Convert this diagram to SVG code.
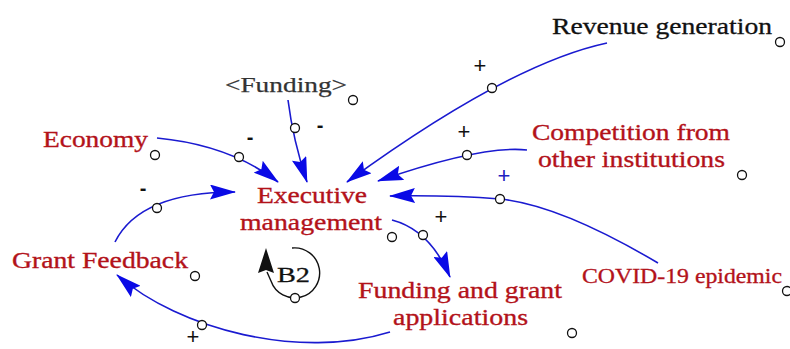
<svg xmlns="http://www.w3.org/2000/svg" width="790" height="349" viewBox="0 0 790 349">
<defs>
<style>
.t{font-family:"Liberation Serif","Times New Roman",serif;}
.red{fill:#b3121a;stroke:#b3121a;stroke-width:0.35;font-size:24px;}
.blk{fill:#111;stroke:#111;stroke-width:0.3;font-size:24px;}
.gray{fill:#333;stroke:#333;stroke-width:0.25;font-size:22px;}
.cv{fill:#b3121a;stroke:#b3121a;stroke-width:0.3;font-size:20px;}
.sg{font-family:"Liberation Sans",Arial,sans-serif;font-size:22px;fill:#111;text-anchor:middle;}
.mn{font-family:"Liberation Sans",Arial,sans-serif;font-size:20px;font-weight:bold;fill:#111;text-anchor:middle;}
.link{fill:none;stroke:#1a1ad0;stroke-width:1.6;marker-end:url(#ah);}
.dot{fill:#fff;stroke:#111;stroke-width:1.3;}
</style>
<marker id="ah" viewBox="0 0 26 15" refX="25" refY="7.5" markerWidth="26" markerHeight="15" markerUnits="userSpaceOnUse" orient="auto">
<path d="M0,0 L26,7.5 L0,15 L4,7.5 z" fill="#0a0ae6"/>
</marker>
</defs>
<rect width="790" height="349" fill="#fff"/>

<g id="connectors">
<path class="link" d="M607,43 Q509,64 347,182"/>
<circle class="dot" cx="492" cy="88" r="4.5"/>
<path class="link" d="M527,150 Q482,145 378,181"/>
<circle class="dot" cx="467" cy="155" r="4.5"/>
<path class="link" d="M658,263 Q560,205 500,199 Q450,195 390,196"/>
<circle class="dot" cx="500" cy="199" r="4.5"/>
<path class="link" d="M288,100 Q293,140 307,182"/>
<circle class="dot" cx="295" cy="128" r="4.5"/>
<path class="link" d="M157,138 Q230,145 278,182"/>
<circle class="dot" cx="239" cy="157" r="4.5"/>
<path class="link" d="M115,242 Q140,192 235,192"/>
<circle class="dot" cx="157" cy="208" r="4.5"/>
<path class="link" d="M392,220 Q430,230 450,277"/>
<circle class="dot" cx="423" cy="235" r="4.5"/>
<path class="link" d="M390,332 C300,360 180,330 117,275"/>
<circle class="dot" cx="202" cy="325" r="4.5"/>
<text class="sg" x="480" y="73">+</text>
<text class="sg" x="464" y="139">+</text>
<text class="sg" x="504" y="183" style="fill:#2020c0">+</text>
<text class="sg" x="441" y="224">+</text>
<text class="sg" x="193" y="344">+</text>
<text class="mn" x="320" y="132">-</text>
<text class="mn" x="250" y="144">-</text>
<text class="mn" x="143" y="195">-</text>
</g>

<g id="revenue-generation">
<text class="t blk" x="552" y="34" textLength="220" lengthAdjust="spacingAndGlyphs">Revenue generation</text>
<circle class="dot" cx="780" cy="42" r="4.5"/>
</g>
<g id="funding-shadow">
<text class="t gray" x="225" y="92" textLength="122" lengthAdjust="spacingAndGlyphs">&lt;Funding&gt;</text>
<circle class="dot" cx="353" cy="100" r="4.5"/>
</g>
<g id="economy">
<text class="t red" x="43" y="147" textLength="105" lengthAdjust="spacingAndGlyphs">Economy</text>
<circle class="dot" cx="155" cy="155" r="4.5"/>
</g>
<g id="competition">
<text class="t red" x="532" y="140" textLength="198" lengthAdjust="spacingAndGlyphs">Competition from</text>
<text class="t red" x="538" y="167" textLength="187" lengthAdjust="spacingAndGlyphs">other institutions</text>
<circle class="dot" cx="742" cy="175" r="4.5"/>
</g>
<g id="executive-management">
<text class="t red" x="257" y="203" textLength="110" lengthAdjust="spacingAndGlyphs">Executive</text>
<text class="t red" x="240" y="230" textLength="142" lengthAdjust="spacingAndGlyphs">management</text>
<circle class="dot" cx="392" cy="237" r="4.5"/>
</g>
<g id="grant-feedback">
<text class="t red" x="12" y="268" textLength="176" lengthAdjust="spacingAndGlyphs">Grant Feedback</text>
<circle class="dot" cx="195" cy="276" r="4.5"/>
</g>
<g id="covid">
<text class="t cv" x="582" y="283" textLength="200" lengthAdjust="spacingAndGlyphs">COVID-19 epidemic</text>
<circle class="dot" cx="787" cy="291" r="4.5"/>
</g>
<g id="funding-grant-applications">
<text class="t red" x="358" y="298" textLength="204" lengthAdjust="spacingAndGlyphs">Funding and grant</text>
<text class="t red" x="393" y="325" textLength="135" lengthAdjust="spacingAndGlyphs">applications</text>
<circle class="dot" cx="572" cy="333" r="4.5"/>
</g>
<g id="loop-b2">
<path d="M292,248 A25,25 0 1 1 271,281 L267,272" fill="none" stroke="#111" stroke-width="1.4"/>
<polygon points="266,248 274,273 266,270 258,273" fill="#111"/>
<text class="t blk" x="277" y="282" style="font-size:22px" textLength="33" lengthAdjust="spacingAndGlyphs">B2</text>
<circle class="dot" cx="295" cy="298" r="4.5"/>
</g>
</svg>
